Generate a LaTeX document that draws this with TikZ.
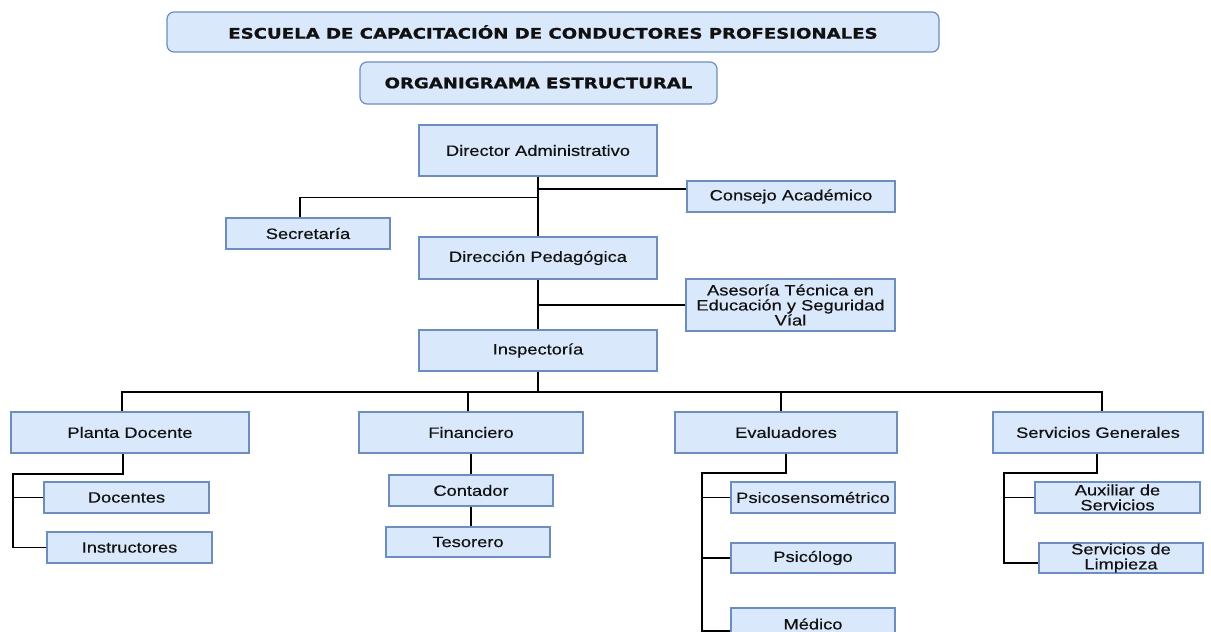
\documentclass[tikz,border=0pt]{standalone}
\usepackage{fontspec}
\newfontfamily\boxfont[FakeStretch=1.22,FakeBold=0.35]{Liberation Sans}
\newfontfamily\headfont[FakeStretch=1.25,BoldFeatures={FakeBold=0.9}]{DejaVu Sans}
\usetikzlibrary{calc}
\definecolor{boxfill}{HTML}{DAE8FC}
\definecolor{boxline}{HTML}{6C8EBF}
\definecolor{ink}{HTML}{111111}
\tikzset{
  unit/.style={draw=boxline, fill=boxfill, line width=1.2pt, inner sep=0pt,
    align=center, text=ink, font=\boxfont\fontsize{15}{15}\selectfont},
  headbox/.style={unit, rounded corners=7pt, font=\headfont\bfseries\fontsize{14.5}{15}\selectfont},
  link/.style={draw=black, line width=1.3pt}
}
% place a box from its corners: \place{name}{x1}{y1}{x2}{y2}{style}{text}
\newcommand\place[7]{%
  \node[#6, minimum width=#4pt-#2pt, minimum height=#5pt-#3pt]
    (#1) at ({(#2+#4)/2},{(#3+#5)/2}) {#7};}
\begin{document}
\begin{tikzpicture}[x=1pt, y=-1pt]
\useasboundingbox (0,0) rectangle (1211,632);
% headings
\place{esc}{167}{12}{939}{52}{headbox}{ESCUELA DE CAPACITACIÓN DE CONDUCTORES PROFESIONALES}
\place{org}{360}{62}{717}{104}{headbox}{ORGANIGRAMA ESTRUCTURAL}
% upper chain
\place{dir}{419}{125}{657}{176}{unit}{Director Administrativo}
\place{con}{687}{181}{895}{212}{unit}{Consejo Académico}
\place{sec}{226}{218}{390}{249}{unit}{Secretaría}
\place{dped}{419}{237}{657}{279}{unit}{Dirección Pedagógica}
\place{ase}{686}{279}{895}{331}{unit}{Asesoría Técnica en\\Educación y Seguridad\\Víal}
\place{insp}{419}{330}{657}{371}{unit}{Inspectoría}
% departments
\place{pd}{11}{412}{249}{453}{unit}{Planta Docente}
\place{fin}{359}{412}{583}{453}{unit}{Financiero}
\place{eva}{675}{412}{897}{453}{unit}{Evaluadores}
\place{sg}{993}{412}{1203}{453}{unit}{Servicios Generales}
% staff
\place{doc}{44}{482}{209}{513}{unit}{Docentes}
\place{ins}{47}{532}{212}{563}{unit}{Instructores}
\place{cont}{389}{475}{553}{506}{unit}{Contador}
\place{tes}{386}{527}{550}{557}{unit}{Tesorero}
\place{psi}{731}{482}{895}{513}{unit}{Psicosensométrico}
\place{psl}{731}{543}{895}{573}{unit}{Psicólogo}
\place{med}{731}{608}{895}{640}{unit}{Médico}
\place{aux}{1035}{482}{1200}{513}{unit}{Auxiliar de\\Servicios}
\place{lim}{1039}{543}{1203}{573}{unit}{Servicios de\\Limpieza}
% spine and junction coordinates
\coordinate (bus) at (538,392);
\coordinate (pdspine) at (13,474);
\coordinate (evaspine) at (702,473);
\coordinate (sgspine) at (1004,473);
% upper connectors
\draw[link] (dir.south) -- (dped.north);
\draw[link] ([yshift=7.5pt]con.west) -| (dir.south);
\draw[link] ([xshift=-8pt]sec.north) |- ([yshift=-21pt]dir.south);
\draw[link] (dped.south) -- (insp.north);
\draw[link] (ase.west) -- (ase.west -| dped.south);
\draw[link] (insp.south) -- (bus);
% department bus
\draw[link] ([xshift=-8pt]pd.north) |- (bus) -| ([xshift=4pt]sg.north);
\draw[link] ([xshift=-3pt]fin.north) -- ([xshift=-3pt]fin.north |- bus);
\draw[link] ([xshift=-5pt]eva.north) -- ([xshift=-5pt]eva.north |- bus);
% Planta Docente
\draw[link] ([xshift=-7pt]pd.south) |- (pdspine) |- (ins.west);
\draw[link] (doc.west) -- (doc.west -| pdspine);
% Financiero
\draw[link] (fin.south) -- (cont.north);
\draw[link] (cont.south) -- (cont.south |- tes.north);
% Evaluadores
\draw[link] (eva.south) |- (evaspine) |- ([yshift=-7pt]med.west);
\draw[link] (psi.west) -- (psi.west -| evaspine);
\draw[link] (psl.west) -- (psl.west -| evaspine);
% Servicios Generales
\draw[link] ([xshift=-1pt]sg.south) |- (sgspine) |- ([yshift=-5pt]lim.west);
\draw[link] (aux.west) -- (aux.west -| sgspine);
\end{tikzpicture}
\end{document}
